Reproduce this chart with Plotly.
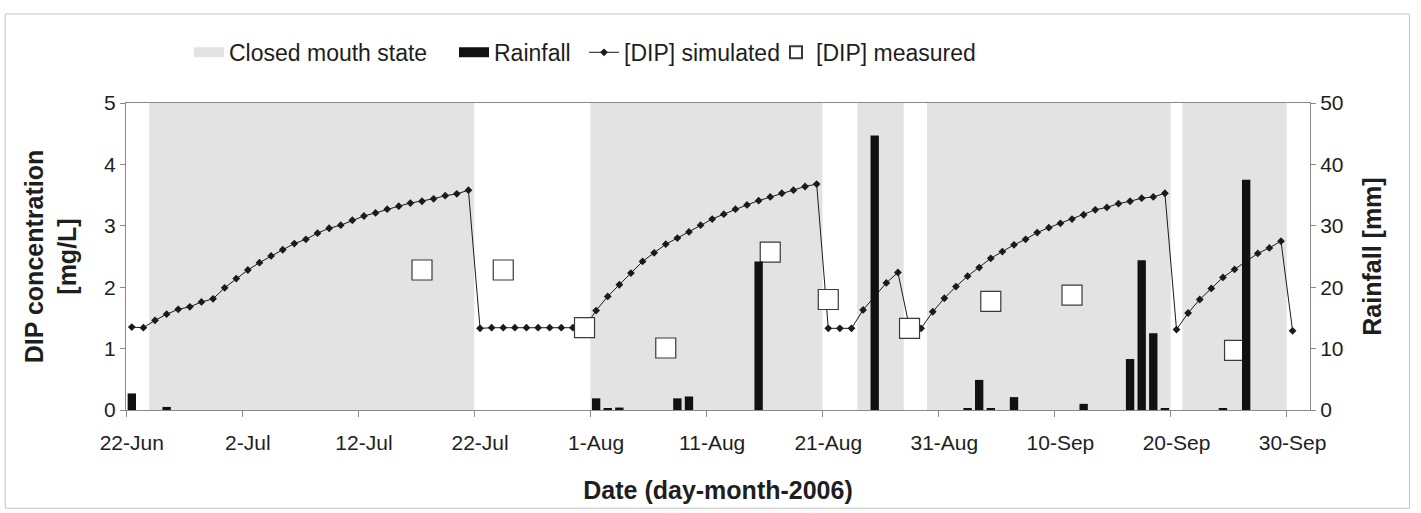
import pandas as pd
import plotly.graph_objects as go

# ---- data -------------------------------------------------------------
# simulated DIP concentration, one value per day from 22-Jun to 30-Sep 2006
sim_start = "2006-06-22"
sim_end = "2006-09-30"
dip_simulated = [
    1.35, 1.34, 1.46, 1.56, 1.64, 1.68, 1.76, 1.81, 1.99, 2.14,
    2.28, 2.40, 2.51, 2.61, 2.71, 2.78, 2.88, 2.96, 3.01, 3.09,
    3.16, 3.21, 3.27, 3.32, 3.37, 3.40, 3.44, 3.49, 3.52, 3.58,
    1.33, 1.34, 1.34, 1.34, 1.34, 1.34, 1.34, 1.34, 1.34, 1.34,
    1.62, 1.85, 2.04, 2.23, 2.42, 2.56, 2.70, 2.80, 2.90, 3.01,
    3.11, 3.19, 3.27, 3.34, 3.41, 3.47, 3.53, 3.58, 3.64, 3.68,
    1.33, 1.33, 1.33, 1.63, 1.85, 2.07, 2.24, 1.34, 1.33, 1.60,
    1.82, 2.01, 2.18, 2.32, 2.47, 2.58, 2.69, 2.78, 2.89, 2.97,
    3.04, 3.11, 3.18, 3.26, 3.30, 3.36, 3.40, 3.45, 3.47, 3.53,
    1.31, 1.58, 1.80, 1.98, 2.16, 2.29, 2.42, 2.55, 2.64, 2.75,
    1.29,
]

# measured DIP concentration [mg/L]
measured_dates = ["2006-07-17", "2006-07-24", "2006-07-31", "2006-08-07", "2006-08-16",
                  "2006-08-21", "2006-08-28", "2006-09-04", "2006-09-11", "2006-09-25"]
dip_measured = [2.28, 2.28, 1.34, 1.01, 2.57, 1.80, 1.33, 1.77, 1.87, 0.97]

# daily rainfall [mm]
rain_dates = ["2006-06-22", "2006-06-25", "2006-08-01", "2006-08-02", "2006-08-03",
              "2006-08-08", "2006-08-09", "2006-08-15", "2006-08-25", "2006-09-02",
              "2006-09-03", "2006-09-04", "2006-09-06", "2006-09-12", "2006-09-16",
              "2006-09-17", "2006-09-18", "2006-09-19", "2006-09-24", "2006-09-26"]
rainfall = [2.7, 0.5, 1.9, 0.3, 0.4, 1.9, 2.2, 24.2, 44.7, 0.3,
            4.9, 0.2, 2.1, 1.0, 8.3, 24.4, 12.5, 0.3, 0.2, 37.5]

# periods with the estuary mouth closed (first and last closed day)
closed_periods = [("2006-06-24", "2006-07-21"), ("2006-08-01", "2006-08-20"),
                  ("2006-08-24", "2006-08-27"), ("2006-08-30", "2006-09-19"),
                  ("2006-09-21", "2006-09-29")]

tick_dates = ["2006-06-22", "2006-07-02", "2006-07-12", "2006-07-22", "2006-08-01",
              "2006-08-11", "2006-08-21", "2006-08-31", "2006-09-10", "2006-09-20",
              "2006-09-30"]
tick_labels = ["22-Jun", "2-Jul", "12-Jul", "22-Jul", "1-Aug", "11-Aug", "21-Aug",
               "31-Aug", "10-Sep", "20-Sep", "30-Sep"]

# ---- derived series -----------------------------------------------------
days = pd.date_range(sim_start, sim_end, freq="D")
closed_flag = [0] * len(days)
for a, b in closed_periods:
    for i, d in enumerate(days):
        if pd.Timestamp(a) <= d <= pd.Timestamp(b):
            closed_flag[i] = 1

half_day = pd.Timedelta(hours=12)
tick_bounds = [pd.Timestamp(t) - half_day for t in tick_dates]
x_range = [days[0] - half_day, days[-1] + pd.Timedelta(days=1) + half_day]

FONT = "Liberation Sans, Arial, sans-serif"
AXIS_GREY = "#8a8a8a"
TXT = "#1e1e1e"
SHADE = "#e3e3e3"

fig = go.Figure()

# closed mouth state as a stepped band on a hidden 0-1 axis
fig.add_trace(go.Scatter(
    x=days, y=closed_flag, name="Closed mouth state", yaxis="y",
    mode="lines", line=dict(width=0, shape="hvh"), fill="tozeroy",
    fillcolor=SHADE, hoverinfo="skip", showlegend=False,
))

fig.add_trace(go.Scatter(
    x=days, y=dip_simulated, name="[DIP] simulated", yaxis="y2",
    mode="lines+markers", line=dict(color="#1a1a1a", width=1),
    marker=dict(symbol="diamond", size=6, color="#1a1a1a"), legend="legend3",
))

fig.add_trace(go.Scatter(
    x=measured_dates, y=dip_measured, name="[DIP] measured", yaxis="y2",
    mode="markers",
    marker=dict(symbol="square", size=20, color="white",
                line=dict(color="#3a3a3a", width=1.2)),
    legend="legend4",
))

fig.add_trace(go.Bar(
    x=rain_dates, y=rainfall, name="Rainfall", yaxis="y3",
    width=0.72 * 86400000, marker=dict(color="#111111", line=dict(width=0)),
    showlegend=False,
))

# wide legend swatches for the two area-type series
fig.add_trace(go.Scatter(x=[None], y=[None], name="Closed mouth state", mode="lines",
                         line=dict(color=SHADE, width=14), legend="legend"))
fig.add_trace(go.Scatter(x=[None], y=[None], name="Rainfall", mode="lines",
                         line=dict(color="#111111", width=12), legend="legend2"))

tickfont = dict(family=FONT, size=21, color=TXT)
titlefont = dict(family=FONT, size=25, color=TXT, weight="bold")


def legend_at(px, sizing="trace"):
    return dict(orientation="h", x=(px - 126) / 1184, xanchor="left",
                y=1.165, yanchor="middle", bgcolor="rgba(0,0,0,0)",
                font=dict(family=FONT, size=23, color=TXT), itemsizing=sizing)


fig.update_layout(
    width=1421, height=513,
    margin=dict(l=126, r=111, t=103, b=103),
    paper_bgcolor="white", plot_bgcolor="white",
    barmode="overlay",
    font=dict(family=FONT, color=TXT),
    showlegend=True,
    legend=legend_at(189),
    legend2=legend_at(454),
    legend3=legend_at(584),
    legend4=legend_at(776, "constant"),
    xaxis=dict(
        type="date", range=x_range, showgrid=False, zeroline=False,
        tickmode="array", tickvals=tick_dates, ticktext=tick_labels, ticks="",
        ticklabelstandoff=14, tickfont=tickfont,
        minor=dict(tickmode="array", tickvals=tick_bounds, ticks="outside",
                   ticklen=6, tickcolor=AXIS_GREY, showgrid=False),
        showline=True, linecolor=AXIS_GREY, linewidth=1, mirror=True,
        title=dict(text="Date (day-month-2006)", font=titlefont, standoff=28),
    ),
    yaxis=dict(range=[0, 1], visible=False, fixedrange=True),
    yaxis2=dict(
        overlaying="y", side="left", anchor="x", range=[0, 5],
        tickmode="array", tickvals=[0, 1, 2, 3, 4, 5],
        ticks="outside", ticklen=5, tickcolor=AXIS_GREY, tickfont=tickfont,
        showline=True, linecolor=AXIS_GREY, showgrid=False, zeroline=False,
        title=dict(text="DIP concentration<br>[mg/L]", font=titlefont, standoff=20),
    ),
    yaxis3=dict(
        overlaying="y", side="right", anchor="x", range=[0, 50],
        tickmode="array", tickvals=[0, 10, 20, 30, 40, 50],
        ticks="outside", ticklen=5, tickcolor=AXIS_GREY, tickfont=tickfont,
        showline=True, linecolor=AXIS_GREY, showgrid=False, zeroline=False,
        title=dict(text="Rainfall [mm]", font=titlefont, standoff=20),
    ),
    shapes=[dict(type="rect", xref="paper", yref="paper",
                 x0=-0.102, x1=1.084, y0=-0.32, y1=1.29,
                 line=dict(color="#c4c4c4", width=1), layer="below")],
)

fig.write_html("out.html")
